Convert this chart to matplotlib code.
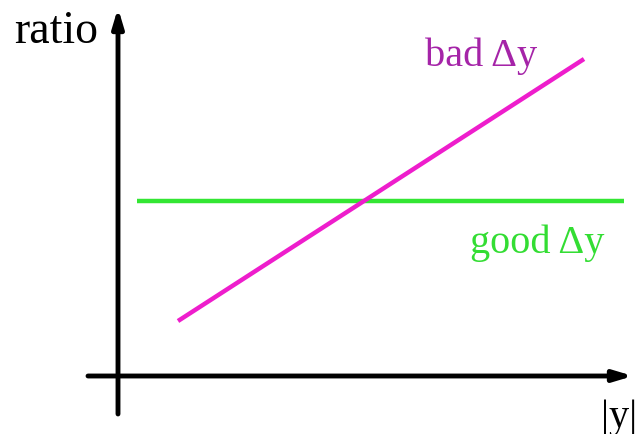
import matplotlib
matplotlib.use("Agg")
import matplotlib.pyplot as plt

# Schematic: ratio versus |y| for good and bad Delta-y
good_y = [19, 506]
good_ratio = [175, 175]
bad_y = [60, 466]
bad_ratio = [55, 317]

plt.rcParams['font.family'] = ['Liberation Serif', 'DejaVu Serif']

fig = plt.figure(figsize=(6.36, 4.35), dpi=100)
ax = fig.add_axes([0, 0, 1, 1])
ax.set_xlim(-118, 518)
ax.set_ylim(-58, 377)
ax.axis('off')

# axes with arrow heads
ax.annotate('', xy=(0, 368), xytext=(0, -38),
            arrowprops=dict(arrowstyle='-|>,head_length=1.1,head_width=0.33',
                            lw=3.5, color='black', shrinkA=0, shrinkB=0))
ax.annotate('', xy=(515, 0), xytext=(-30, 0),
            arrowprops=dict(arrowstyle='-|>,head_length=1.1,head_width=0.33',
                            lw=3.5, color='black', shrinkA=0, shrinkB=0))

ax.plot(good_y, good_ratio, color='#33e633', lw=3.2, solid_capstyle='butt')
ax.plot(bad_y, bad_ratio, color='#ee1dcc', lw=3.2, solid_capstyle='butt')

ax.text(-104, 334, 'ratio', fontsize=33, ha='left', va='baseline', color='black')
ax.text(483, -50, '|y|', fontsize=29, ha='left', va='baseline', color='black')
ax.text(307, 311, 'bad Δy', fontsize=29, ha='left', va='baseline', color='#a524a8')
ax.text(352, 124, 'good Δy', fontsize=29, ha='left', va='baseline', color='#33dd33')

fig.savefig('out.png', dpi=100)
